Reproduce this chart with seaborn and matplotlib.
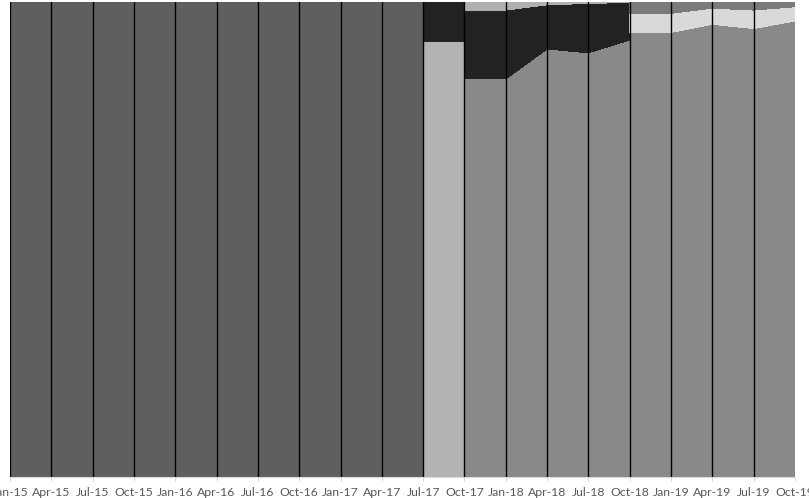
import matplotlib
matplotlib.use("Agg")
import matplotlib.pyplot as plt
import seaborn as sns
import numpy as np

# Quarter tick labels
quarters = ["Jan-15", "Apr-15", "Jul-15", "Oct-15", "Jan-16", "Apr-16", "Jul-16", "Oct-16",
            "Jan-17", "Apr-17", "Jul-17", "Oct-17", "Jan-18", "Apr-18", "Jul-18", "Oct-18",
            "Jan-19", "Apr-19", "Jul-19", "Oct-19"]

# Data points (repeated quarter = step change at that date)
point_quarters = ["Jan-15", "Apr-15", "Jul-15", "Oct-15", "Jan-16", "Apr-16", "Jul-16", "Oct-16",
                  "Jan-17", "Apr-17", "Jul-17", "Jul-17", "Oct-17", "Oct-17", "Jan-18", "Apr-18",
                  "Jul-18", "Oct-18", "Oct-18", "Jan-19", "Apr-19", "Jul-19", "Oct-19"]

series_dark = [100] * 11 + [0] * 12
series_light_a = [0] * 11 + [91.6, 91.6] + [0] * 10
series_mid = [0] * 13 + [83.8, 83.8, 90.1, 89.3, 92.0, 93.5, 93.6, 95.3, 94.4, 96.1]
series_black = [0] * 11 + [8.4, 8.4] + [14.5, 14.5, 9.3, 10.4, 7.9] + [0] * 5
series_light_b = [0] * 13 + [1.7, 1.7, 0.6, 0.3, 0.1] + [0] * 5
series_pale = [0] * 18 + [4.1, 4.0, 3.4, 3.9, 3.0]
series_top = [0] * 18 + [2.4, 2.4, 1.3, 1.7, 1.0]

colors = ["#5f5f5f", "#b3b3b3", "#898989", "#222222", "#b0b0b0", "#d9d9d9", "#7b7b7b"]

sns.set_theme(style="white")
plt.rcParams['font.family'] = ['Lato', 'DejaVu Sans']

fig = plt.figure(figsize=(8.09, 4.98), dpi=100)
ax = fig.add_axes([10 / 809, 21 / 498, 785 / 809, 475 / 498])

x = np.array([quarters.index(q) for q in point_quarters], dtype=float)
stack = np.array([series_dark, series_light_a, series_mid, series_black,
                  series_light_b, series_pale, series_top], dtype=float)
stack = stack / stack.sum(axis=0) * 100

ax.stackplot(x, stack, colors=colors, linewidth=0, edgecolor="none", antialiased=False)

for i in range(len(quarters) - 1):
    ax.axvline(i, color="black", lw=1.0, zorder=3)

ax.set_xlim(0, len(quarters) - 1)
ax.set_ylim(0, 100)
ax.set_yticks([])
ax.set_xticks(range(len(quarters)))
ax.set_xticklabels(quarters, fontsize=8.8, color="#595959")
ax.tick_params(axis="x", length=3, width=0.8, color="#d9d9d9", pad=4, bottom=True)
for side in ["top", "left", "right"]:
    ax.spines[side].set_visible(False)
ax.spines["bottom"].set_color("#d9d9d9")
ax.spines["bottom"].set_linewidth(0.8)
ax.set_facecolor("white")

fig.savefig("out.png", dpi=100)
